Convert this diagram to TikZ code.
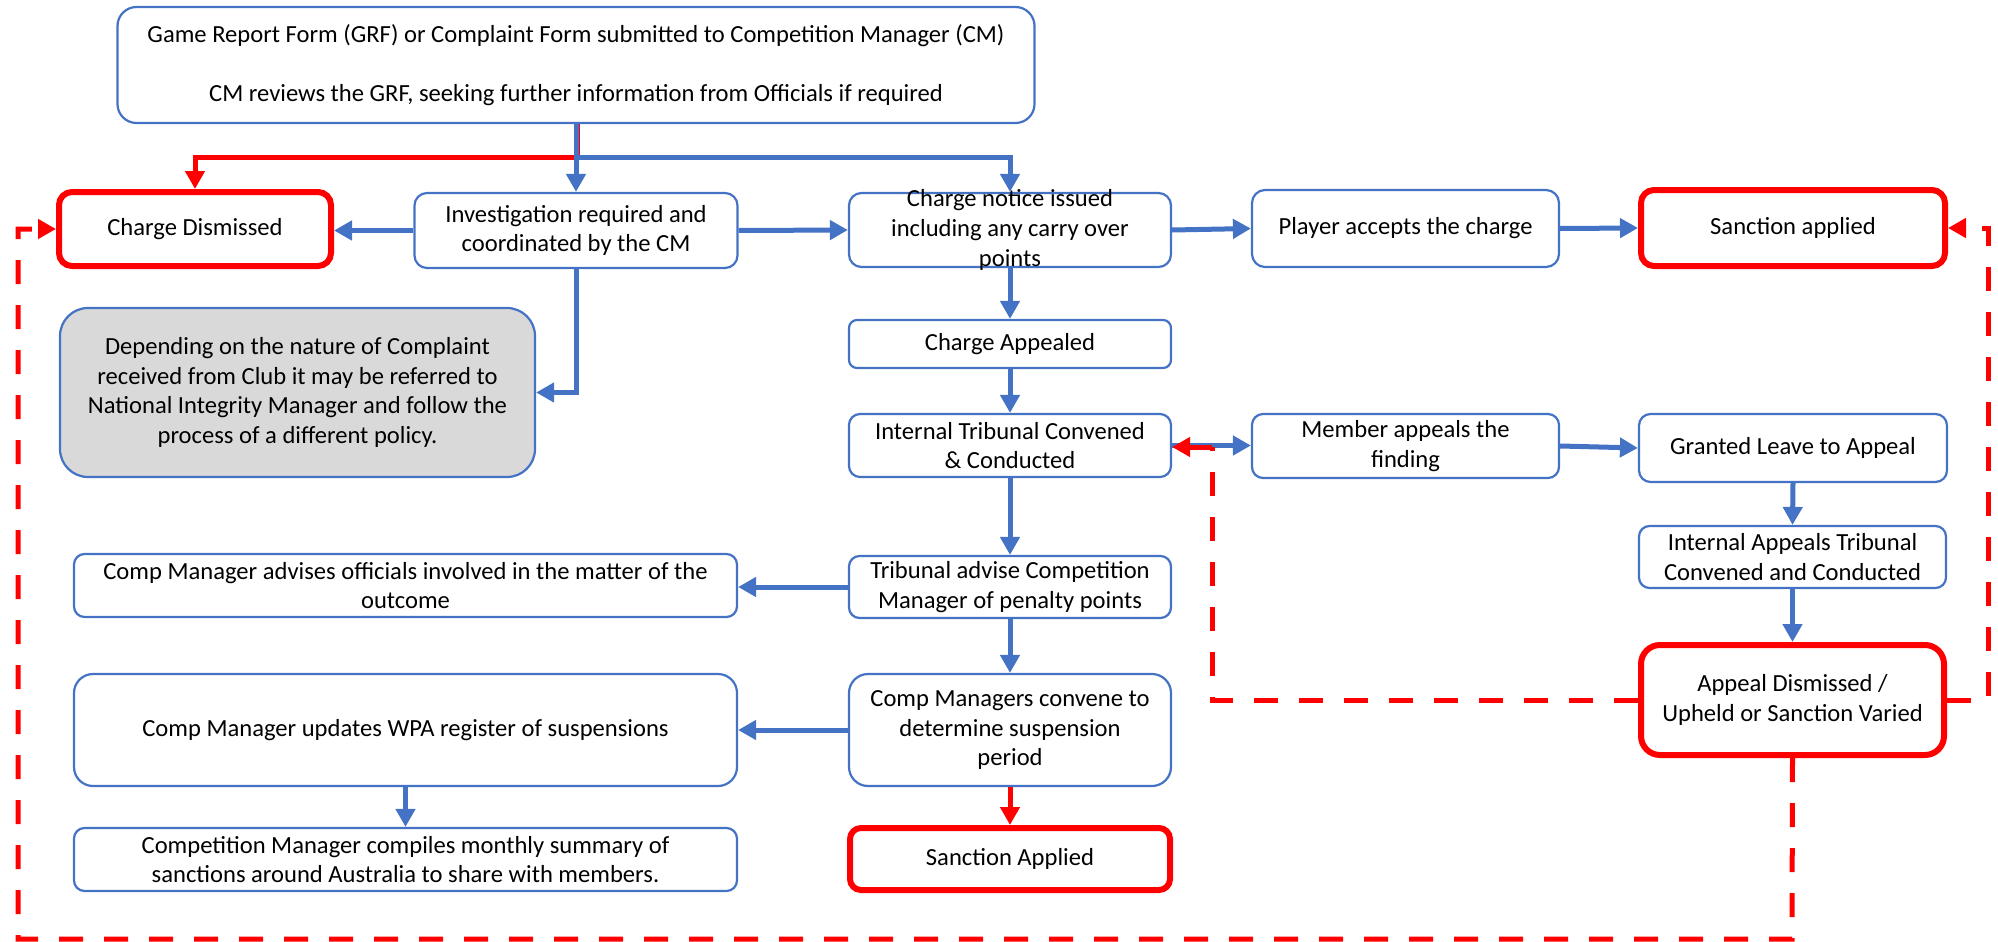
\documentclass[tikz,border=0pt]{standalone}
\usepackage{fontspec}
\setmainfont{Carlito}
\usetikzlibrary{arrows.meta}
\definecolor{oblue}{RGB}{68,114,196}
\definecolor{ored}{RGB}{255,0,0}
\definecolor{ogrey}{RGB}{217,217,217}
\newcommand\boxfont{\fontsize{24.6pt}{29.7pt}\selectfont}
\tikzset{
  bx/.style={draw=oblue, line width=2.2pt, fill=white, align=center, inner sep=2pt, font=\boxfont, text=black},
  rbx/.style={bx, draw=ored, line width=6pt},
  gbx/.style={bx, fill=ogrey},
  txt/.style={align=center, inner sep=0pt, font=\boxfont, text=black},
  barrow/.style={draw=oblue, line width=5pt, -{Triangle[length=18pt,width=19pt]}},
  rarrow/.style={draw=ored, line width=5pt, -{Triangle[length=18pt,width=19pt]}},
  rdash/.style={draw=ored, line width=5pt, dash pattern=on 24pt off 21pt, -{Triangle[length=18pt,width=19pt]}},
}
\begin{document}
\begin{tikzpicture}[x=1pt,y=-1pt]
\useasboundingbox (0,0) rectangle (1998,942);

% boxes
\node[bx, rounded corners=19pt, minimum width=917pt, minimum height=116pt] (grf) at (576,65)
  {Game Report Form (GRF) or Complaint Form submitted to Competition Manager (CM)\\[29.7pt]CM reviews the GRF, seeking further information from Officials if required};
\node[rbx, rounded corners=13pt, minimum width=272pt, minimum height=74pt] (cd) at (195,229) {Charge Dismissed};
\node[bx, rounded corners=12.5pt, minimum width=323pt, minimum height=75pt] (inv) at (576,230.5) {Investigation required and\\coordinated by the CM};
\node[bx, rounded corners=12.5pt, minimum width=322pt, minimum height=74pt] (cn) at (1010,230) {};
\node[txt] (cnt) at (1010,230) {Charge notice issued\\including any carry over\\points};
\node[bx, rounded corners=13pt, minimum width=307pt, minimum height=77pt] (pa) at (1405.5,228.5) {Player accepts the charge};
\node[rbx, rounded corners=13pt, minimum width=304pt, minimum height=76pt] (sa) at (1793,228) {Sanction applied};
\node[bx, rounded corners=8pt, minimum width=322pt, minimum height=48pt] (ca) at (1010,344) {Charge Appealed};
\node[bx, rounded corners=11pt, minimum width=322pt, minimum height=63pt] (it) at (1010,445.5) {Internal Tribunal Convened\\\& Conducted};
\node[bx, rounded corners=11pt, minimum width=307pt, minimum height=64pt] (ma) at (1405.5,446) {Member appeals the\\finding};
\node[bx, rounded corners=11.5pt, minimum width=308pt, minimum height=68pt] (gl) at (1793,448) {Granted Leave to Appeal};
\node[bx, rounded corners=10.5pt, minimum width=307pt, minimum height=62pt] (iat) at (1792.5,557) {Internal Appeals Tribunal\\Convened and Conducted};
\node[rbx, rounded corners=19pt, minimum width=303pt, minimum height=110pt] (ad) at (1792.5,700) {Appeal Dismissed /\\Upheld or Sanction Varied};
\node[bx, rounded corners=10.5pt, minimum width=322pt, minimum height=62pt] (ta) at (1010,587) {Tribunal advise Competition\\Manager of penalty points};
\node[bx, rounded corners=10.5pt, minimum width=663pt, minimum height=63pt] (cma) at (405.5,585.5) {Comp Manager advises officials involved in the matter of the\\outcome};
\node[bx, rounded corners=19pt, minimum width=322pt, minimum height=112pt] (cmc) at (1010,730) {Comp Managers convene to\\determine suspension\\period};
\node[bx, rounded corners=19pt, minimum width=663pt, minimum height=112pt] (cmu) at (405.5,730) {Comp Manager updates WPA register of suspensions};
\node[bx, rounded corners=10.5pt, minimum width=663pt, minimum height=63pt] (cmp) at (405.5,859.5) {Competition Manager compiles monthly summary of\\sanctions around Australia to share with members.};
\node[rbx, rounded corners=11pt, minimum width=320pt, minimum height=62pt] (sap) at (1010,859) {Sanction Applied};
\node[gbx, rounded corners=28pt, minimum width=475pt, minimum height=169pt] (grey) at (297.5,392.5) {Depending on the nature of Complaint\\received from Club it may be referred to\\National Integrity Manager and follow the\\process of a different policy.};

% junction coordinates
\coordinate (br) at (576,157);
\coordinate (rt1) at (579.5,124);
\coordinate (rt2) at (579.5,155);
\coordinate (j1) at (1212,700);
\coordinate (j2) at (1212,447);
\coordinate (k1) at (1988,700);
\coordinate (k2) at (1988,228);
\coordinate (b1) at (1792,939);
\coordinate (b2) at (18,939);
\coordinate (b3) at (18,229);

% top branches
\draw[rarrow] (br) -| (cd.north);
\draw[barrow] (grf.south) -- (inv.north);
\draw[barrow] (br) -| (cn.north);
\draw[ored, line width=1pt] (rt1) -- (rt2);

% blue connectors
\draw[barrow] (inv.west) -- (inv.west -| cd.east);
\draw[barrow] (inv.east) -- (cn.west);
\draw[barrow] (cn.east) -- (pa.west);
\draw[barrow] (pa.east) -- (sa.west);
\draw[barrow] (cn.south) -- (ca.north);
\draw[barrow] (ca.south) -- (it.north);
\draw[barrow] (it.south) -- (ta.north);
\draw[barrow] (ta.south) -- (cmc.north);
\draw[barrow] (ta.west) -- (ta.west -| cma.east);
\draw[barrow] (cmc.west) -- (cmu.east);
\draw[barrow] (cmu.south) -- (cmp.north);
\draw[barrow] (inv.south) |- (grey.east);
\draw[barrow] (it.east) -- (it.east -| ma.west);
\draw[barrow] (ma.east) -- (gl.west);
\draw[barrow] (gl.south) -- (iat.north);
\draw[barrow] (iat.south) -- (ad.north);

% red connectors
\draw[rarrow] (cmc.south) -- (sap.north);
\draw[rdash, -] (ad.west) -- (j1) -- (j2);
\draw[rarrow] (j2) -- (j2 -| it.east);
\draw[rdash] (ad.east) -- (k1) -- (k2) -- (sa.east);
\draw[rdash] (ad.south) -- (b1) -- (b2) -- (b3) -- (cd.west);
\end{tikzpicture}
\end{document}
